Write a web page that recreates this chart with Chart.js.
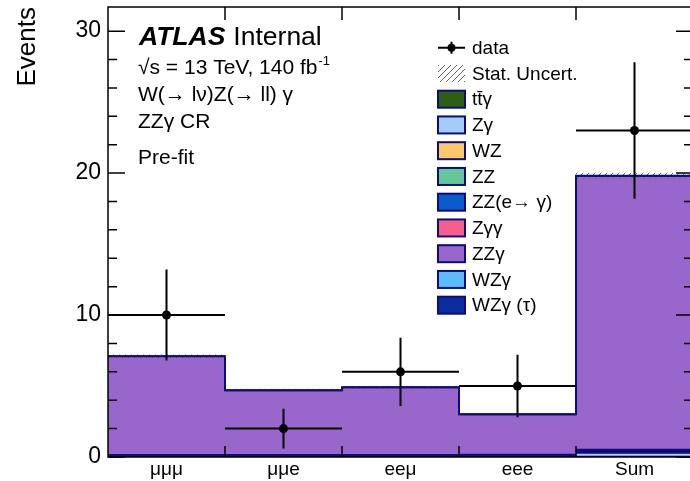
<!DOCTYPE html>
<html>
<head>
<meta charset="utf-8">
<script src="https://cdn.jsdelivr.net/npm/chart.js@4"></script>
<style>
  html, body { margin: 0; padding: 0; background: #fff; overflow: hidden; }
  #wrap { width: 698px; height: 481px; }
</style>
</head>
<body>
<div id="wrap"><canvas id="evChart"></canvas></div>
<script>
// bins and values
const binLabels = ['μμμ', 'μμe', 'eeμ', 'eee', 'Sum'];

const ttgValues    = [0.01, 0.01, 0.01, 0.01, 0.04];
const zgValues     = [0.04, 0.03, 0.04, 0.05, 0.24];
const wzValues     = [0.02, 0.02, 0.02, 0.02, 0.06];
const zzValues     = [0.02, 0.02, 0.02, 0.02, 0.05];
const zzEgValues   = [0.04, 0.04, 0.04, 0.04, 0.08];
const zggValues    = [0.03, 0.03, 0.03, 0.03, 0.06];
const zzgValues    = [6.92, 4.53, 4.73, 2.82, 19.25];
const wzgValues    = [0.01, 0.01, 0.01, 0.01, 0.02];
const wzgTauValues = [0.01, 0.01, 0.01, 0.01, 0.02];

const statUnc = [0.12, 0.10, 0.10, 0.08, 0.20];

const dataValues  = [10, 2, 6, 5, 23];
const dataErrUp   = [3.2, 1.4, 2.4, 2.2, 4.8];
const dataErrDown = [3.2, 1.4, 2.4, 2.2, 4.8];

const yTickValues = [0, 10, 20, 30];
const yMax = 31.7;

const NAVY = '#0c0c7a';
const FONT = '"Liberation Sans", Arial, Helvetica, sans-serif';

// 堆叠的本底成分（从下往上）
const components = [
  { label: 'tt\u0304γ', values: ttgValues, color: '#2d5e14' },
  { label: 'Zγ', values: zgValues, color: '#a3cdf8' },
  { label: 'WZ', values: wzValues, color: '#fcc86c' },
  { label: 'ZZ', values: zzValues, color: '#63c79b' },
  { label: 'ZZ(e→ γ)', values: zzEgValues, color: '#0a5bcc' },
  { label: 'Zγγ', values: zggValues, color: '#f55f8c' },
  { label: 'ZZγ', values: zzgValues, color: '#9966cc' },
  { label: 'WZγ', values: wzgValues, color: '#5bbcf8' },
  { label: 'WZγ (τ)', values: wzgTauValues, color: '#0b2d9e' }
];

const barSets = components.map(c => ({
  type: 'bar',
  label: c.label,
  data: c.values,
  backgroundColor: c.color,
  borderWidth: 0,
  barPercentage: 1,
  categoryPercentage: 1,
  stack: 'mc',
  order: 1
}));

const dataSet = {
  type: 'line',
  label: 'data',
  data: dataValues,
  showLine: false,
  pointRadius: 4.5,
  pointHoverRadius: 4.5,
  pointBackgroundColor: '#000',
  pointBorderWidth: 0,
  stack: 'data',
  order: 0
};

// hatch pattern for stat. uncertainty
function makeHatch() {
  const c = document.createElement('canvas');
  c.width = 6; c.height = 6;
  const g = c.getContext('2d');
  g.strokeStyle = '#666';
  g.lineWidth = 1;
  g.beginPath();
  g.moveTo(0, 6); g.lineTo(6, 0);
  g.moveTo(-1, 1); g.lineTo(1, -1);
  g.moveTo(5, 7); g.lineTo(7, 5);
  g.stroke();
  return c;
}
const hatchCanvas = makeHatch();

function totals() {
  return binLabels.map((_, i) => components.reduce((s, c) => s + c.values[i], 0));
}

const decorPlugin = {
  id: 'atlasDecor',
  beforeDatasetDraw(chart, args) {
    if (args.meta.type !== 'line') return;
    const { ctx, chartArea: a, scales: { x, y } } = chart;
    const half = (x.getPixelForValue(1) - x.getPixelForValue(0)) / 2;
    const tot = totals();
    ctx.save();
    ctx.beginPath(); ctx.rect(a.left, a.top, a.width, a.height); ctx.clip();
    // navy edge on top of each small component (ROOT line colour)
    ctx.strokeStyle = NAVY;
    ctx.lineWidth = 1.5;
    binLabels.forEach((_, i) => {
      const cx = x.getPixelForValue(i);
      let cum = 0;
      components.forEach(c => {
        cum += c.values[i];
        if (c.label === 'ZZγ') return;
        const py = y.getPixelForValue(cum);
        ctx.beginPath();
        ctx.moveTo(cx - half, py); ctx.lineTo(cx + half, py);
        ctx.stroke();
      });
    });
    // stat. uncertainty band
    ctx.fillStyle = ctx.createPattern(hatchCanvas, 'repeat');
    tot.forEach((t, i) => {
      const cx = x.getPixelForValue(i);
      const y1 = y.getPixelForValue(t + statUnc[i]);
      const y2 = y.getPixelForValue(t - statUnc[i]);
      ctx.fillRect(cx - half, y1, 2 * half, y2 - y1);
    });
    // histogram outline
    ctx.lineWidth = 2;
    ctx.beginPath();
    tot.forEach((t, i) => {
      const cx = x.getPixelForValue(i);
      const py = y.getPixelForValue(t);
      if (i === 0) ctx.moveTo(cx - half, py); else ctx.lineTo(cx - half, py);
      ctx.lineTo(cx + half, py);
    });
    ctx.stroke();
    ctx.restore();
  },
  afterDatasetsDraw(chart) {
    const { ctx, scales: { x, y } } = chart;
    const half = (x.getPixelForValue(1) - x.getPixelForValue(0)) / 2;
    ctx.save();
    ctx.strokeStyle = '#000';
    ctx.lineWidth = 2;
    dataValues.forEach((v, i) => {
      const cx = x.getPixelForValue(i);
      const py = y.getPixelForValue(v);
      ctx.beginPath();
      ctx.moveTo(cx - half, py); ctx.lineTo(cx + half, py);
      ctx.moveTo(cx, y.getPixelForValue(v + dataErrUp[i]));
      ctx.lineTo(cx, y.getPixelForValue(v - dataErrDown[i]));
      ctx.stroke();
    });
    ctx.restore();
  },
  afterDraw(chart) {
    const { ctx, chartArea: a, scales: { x, y } } = chart;
    const half = (x.getPixelForValue(1) - x.getPixelForValue(0)) / 2;
    ctx.save();
    // frame
    ctx.strokeStyle = '#000';
    ctx.lineWidth = 1.5;
    ctx.strokeRect(a.left, a.top, a.width, a.height);
    // y ticks (major + minor), both sides
    ctx.beginPath();
    for (let v = 0; v <= yMax; v += 2) {
      const py = y.getPixelForValue(v);
      const len = yTickValues.includes(v) ? 17 : 9;
      ctx.moveTo(a.left, py); ctx.lineTo(a.left + len, py);
      ctx.moveTo(a.right, py); ctx.lineTo(a.right - len, py);
    }
    // x ticks at bin edges
    for (let i = 1; i < binLabels.length; i++) {
      const px = x.getPixelForValue(i) - half;
      ctx.moveTo(px, a.bottom); ctx.lineTo(px, a.bottom - 11);
      ctx.moveTo(px, a.top); ctx.lineTo(px, a.top + 13);
    }
    ctx.stroke();

    // ATLAS label block
    ctx.fillStyle = '#000';
    ctx.textBaseline = 'alphabetic';
    ctx.textAlign = 'left';
    ctx.font = 'bold italic 26.5px ' + FONT;
    ctx.fillText('ATLAS', 139, 45);
    const aw = ctx.measureText('ATLAS').width;
    ctx.font = '26.5px ' + FONT;
    ctx.fillText('Internal', 139 + aw + 8, 45);

    ctx.font = '21px ' + FONT;
    const l2 = '√s = 13 TeV, 140 fb';
    ctx.fillText(l2, 138, 74);
    const w2 = ctx.measureText(l2).width;
    ctx.font = '13px ' + FONT;
    ctx.fillText('-1', 138 + w2 + 1, 65);
    ctx.font = '21px ' + FONT;
    ctx.fillText('W(→ lν)Z(→ ll) γ', 138, 101);
    ctx.fillText('ZZγ CR', 138, 128);
    ctx.fillText('Pre-fit', 138, 164);

    // legend
    const bx = 438, bw = 27, bh = 17, tx = 472;
    const rowY = i => 47.7 + i * 25.75;
    ctx.font = '19px ' + FONT;
    ctx.textBaseline = 'middle';
    // data entry
    let ry = rowY(0);
    ctx.lineWidth = 2;
    ctx.beginPath();
    ctx.moveTo(bx, ry); ctx.lineTo(bx + bw, ry);
    ctx.moveTo(bx + bw / 2, ry - 6); ctx.lineTo(bx + bw / 2, ry + 6);
    ctx.stroke();
    ctx.beginPath(); ctx.arc(bx + bw / 2, ry, 4, 0, Math.PI * 2); ctx.fill();
    ctx.fillText('data', tx, ry + 1);
    // stat. uncert.
    ry = rowY(1);
    ctx.fillStyle = ctx.createPattern(hatchCanvas, 'repeat');
    ctx.fillRect(bx, ry - bh / 2, bw, bh);
    ctx.fillStyle = '#000';
    ctx.fillText('Stat. Uncert.', tx, ry + 1);
    // components
    components.forEach((c, i) => {
      const yy = rowY(i + 2);
      ctx.fillStyle = c.color;
      ctx.fillRect(bx, yy - bh / 2, bw, bh);
      ctx.strokeStyle = NAVY;
      ctx.lineWidth = 2;
      ctx.strokeRect(bx, yy - bh / 2, bw, bh);
      ctx.fillStyle = '#000';
      ctx.fillText(c.label, tx, yy + 1);
    });
    ctx.restore();
  }
};

const ctx = document.getElementById('evChart').getContext('2d');
const evChart = new Chart(ctx, {
  data: {
    labels: binLabels,
    datasets: [...barSets, dataSet]
  },
  options: {
    responsive: true,
    maintainAspectRatio: false,
    animation: false,
    layout: { padding: { top: 7, right: 5, left: 0, bottom: 0 } },
    plugins: {
      legend: { display: false },
      tooltip: { enabled: false }
    },
    scales: {
      x: {
        type: 'category',
        stacked: true,
        offset: true,
        grid: { display: false, drawTicks: false },
        border: { display: false },
        ticks: { color: '#000', padding: 1, font: { family: FONT, size: 19 } },
        afterFit: s => { s.height = 24; s.paddingLeft = 0; s.paddingRight = 0; }
      },
      y: {
        stacked: true,
        min: 0,
        max: yMax,
        grid: { display: false, drawTicks: false },
        border: { display: false },
        ticks: { color: '#000', padding: 7, font: { family: FONT, size: 23 } },
        afterBuildTicks: s => { s.ticks = yTickValues.map(v => ({ value: v })); },
        title: {
          display: true,
          text: 'Events',
          align: 'end',
          color: '#000',
          font: { family: FONT, size: 26 },
          padding: { top: 12, bottom: 0 }
        },
        afterFit: s => { s.width = 108; s.paddingTop = 0; s.paddingBottom = 0; }
      }
    }
  },
  plugins: [decorPlugin]
});
</script>
</body>
</html>
